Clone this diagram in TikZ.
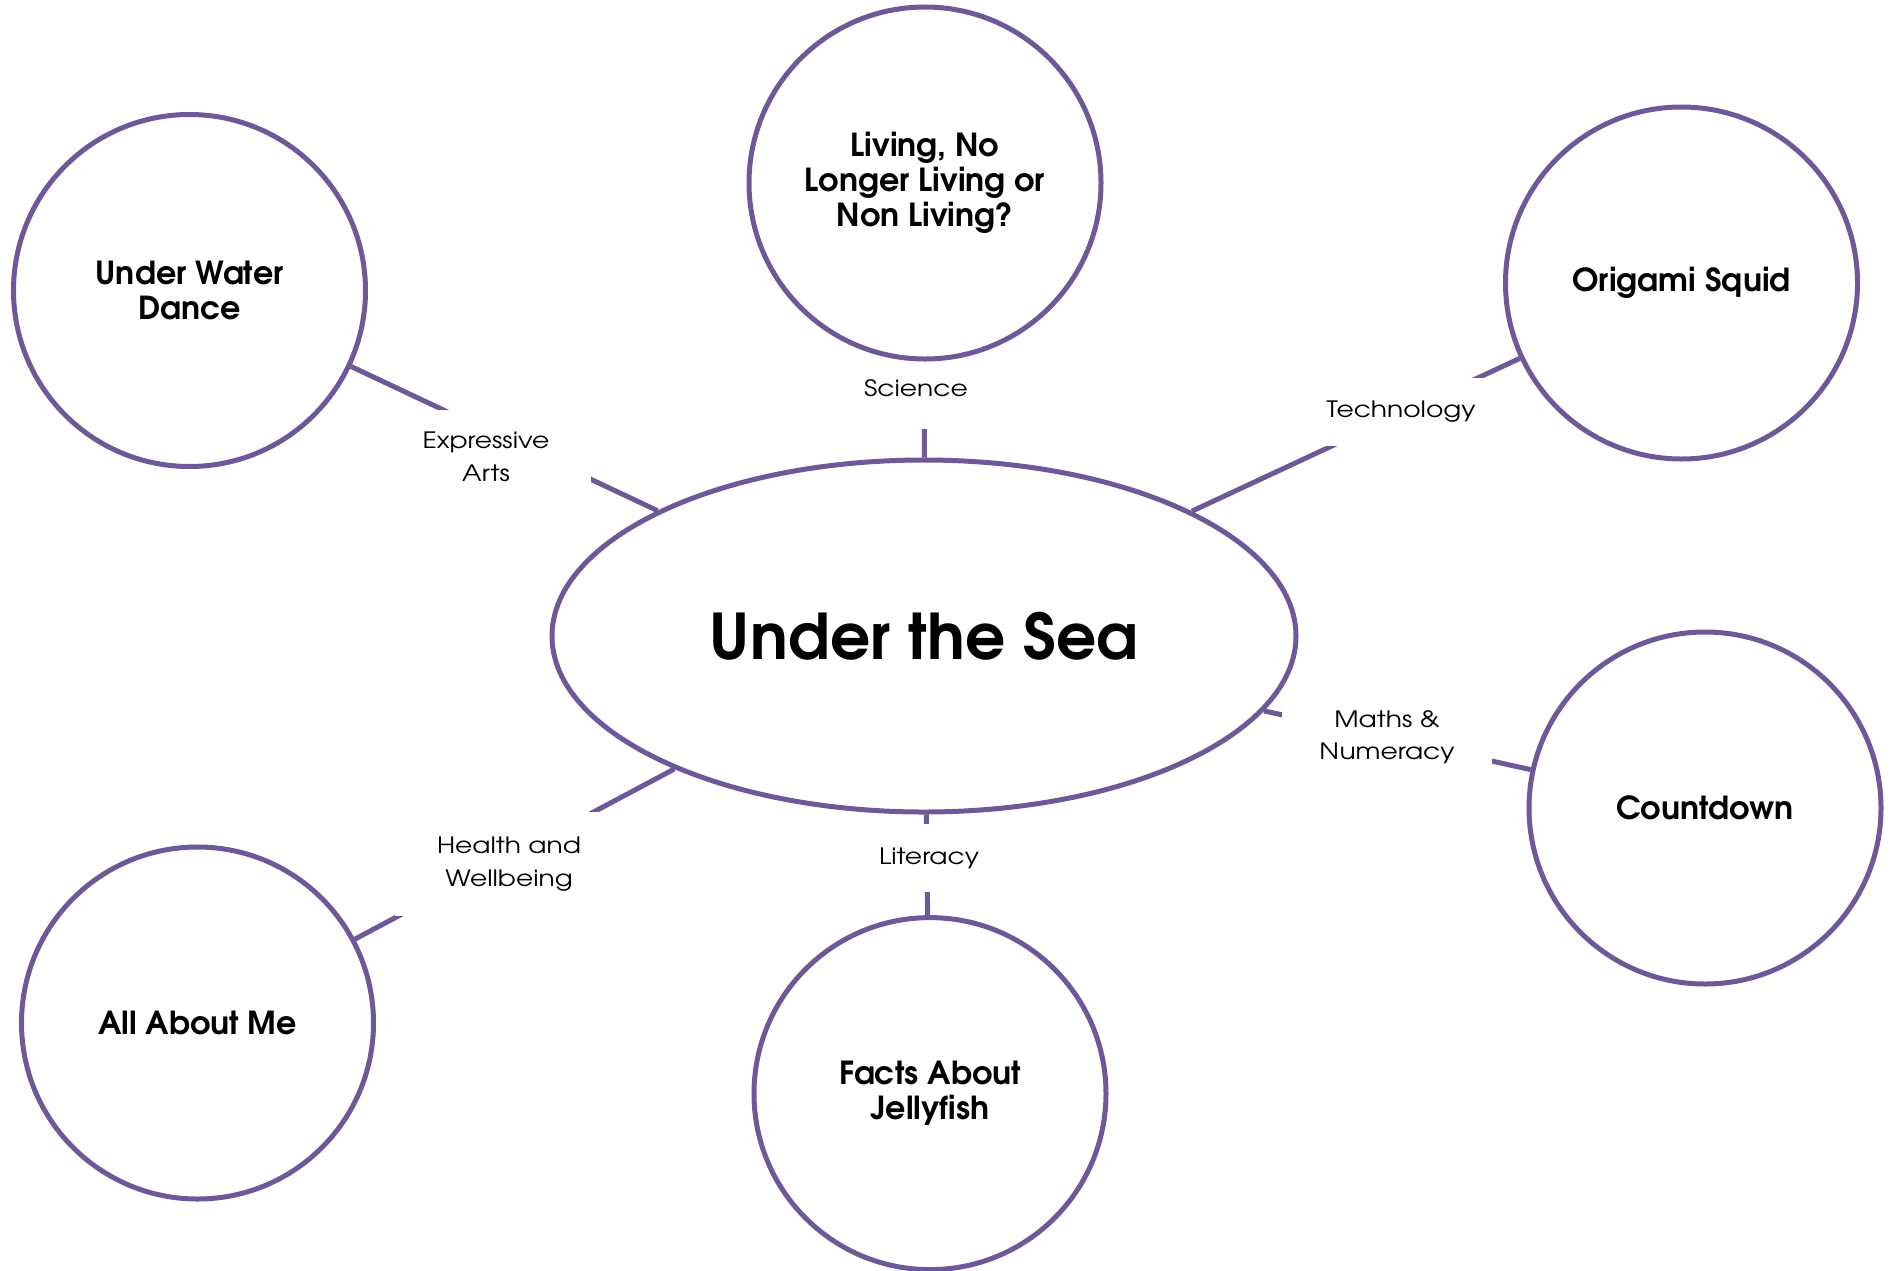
\documentclass[tikz,border=0pt]{standalone}
\usepackage{fontspec}
\setmainfont{texgyreadventor}[Extension=.otf,UprightFont=*-regular,BoldFont=*-bold]
\newfontfamily\tagfont{texgyreadventor}[Extension=.otf,UprightFont=*-regular,BoldFont=*-bold,FakeStretch=1.18]
\usetikzlibrary{shapes.geometric}
\definecolor{purp}{RGB}{110,88,152}
\pgfdeclarelayer{bg}
\pgfsetlayers{bg,main}
\begin{document}
\begin{tikzpicture}[x=1pt,y=-1pt,
  topic/.style={circle, draw=purp, line width=5pt, minimum size=352pt, inner sep=0pt, align=center, font=\fontsize{31.75}{35}\selectfont\bfseries},
  hub/.style={ellipse, draw=purp, line width=5pt, minimum width=744pt, minimum height=352pt, inner sep=0pt, font=\fontsize{63}{70}\selectfont\bfseries},
  link/.style={draw=purp, line width=5pt},
  tag/.style={fill=white, inner sep=0pt, align=center, font=\tagfont\fontsize{22.5}{32.5}\selectfont}]
\begin{pgfonlayer}{bg}
\fill[white] (0,0) rectangle (1892,1270);
\end{pgfonlayer}
\useasboundingbox (0,0) rectangle (1892,1270);

\node[hub] (sea) at (924,636) {Under the Sea};
\node[topic] (dance) at (189.5,290.5) {Under Water\\Dance};
\node[topic] (living) at (925,183) {Living, No\\Longer Living or\\Non Living?};
\node[topic] (squid) at (1681.5,283) {Origami Squid};
\node[topic] (count) at (1705,808) {Countdown};
\node[topic] (me) at (197.5,1023) {All About Me};
\node[topic] (jelly) at (930,1093.6) {Facts About\\Jellyfish};

\begin{pgfonlayer}{bg}
\draw[link] (dance) -- (sea);
\draw[link] (living) -- (sea);
\draw[link] (squid) -- (sea);
\draw[link] (count) -- (sea);
\draw[link] (me) -- (sea);
\draw[link] (jelly) -- (sea);
\node[tag, minimum width=210pt, minimum height=94pt] (texpr) at (486,457) {Expressive\\Arts};
\node[tag, minimum width=124pt, minimum height=80pt] (tsci) at (916,388.5) {Science};
\node[tag, minimum width=172pt, minimum height=68pt] (ttech) at (1401,412) {Technology};
\node[tag, minimum width=210pt, minimum height=72pt] (tmath) at (1387,737) {Maths \&\\Numeracy};
\node[tag, minimum width=114pt, minimum height=68pt] (tlit) at (929,858) {Literacy};
\node[tag, minimum width=228pt, minimum height=104pt] (thealth) at (509,864) {Health and\\Wellbeing};
\end{pgfonlayer}
\end{tikzpicture}
\end{document}
